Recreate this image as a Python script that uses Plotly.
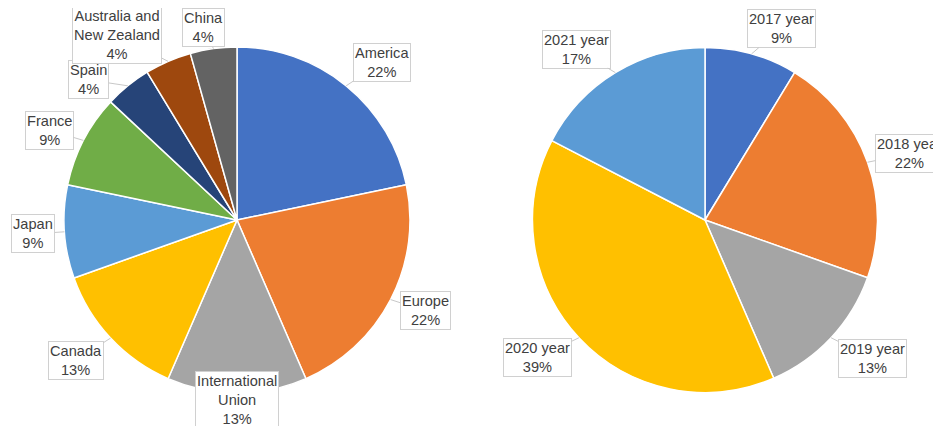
import math
import plotly.graph_objects as go

W, H = 941, 426

# ---- data ----
regions = ["America", "Europe", "International<br>Union", "Canada", "Japan",
           "France", "Spain", "Australia and<br>New Zealand", "China"]
region_counts = [5, 5, 3, 3, 2, 2, 1, 1, 1]
region_colors = ["#4472C4", "#ED7D31", "#A5A5A5", "#FFC000", "#5B9BD5",
                 "#70AD47", "#264478", "#9E480E", "#636363"]

years = ["2017 year", "2018 year", "2019 year", "2020 year", "2021 year"]
year_counts = [2, 5, 3, 9, 4]
year_colors = ["#4472C4", "#ED7D31", "#A5A5A5", "#FFC000", "#5B9BD5"]

# ---- style: label placement (radius in px, angle shift in deg) ----
region_label_pos = [(214, 3.4), (209, -1.6), (180, 0), (214, 2), (204, 0),
                    (208, -1.8), (204, -7.5), (220, -9.5), (195, -2)]
year_label_pos = [(206, 6), (215, 1.6), (217, -3.4), (217, 3.6), (214, -5.7)]

# page body has an 8px margin, so figure coords are shifted by 8px
OFF = 8
left_center, left_r = (237 - OFF, 220 - OFF), 173
right_center, right_r = (705 - OFF, 220 - OFF), 172.5


def domain(center, r):
    cx, cy = center
    return dict(x=[(cx - r) / W, (cx + r) / W],
                y=[1 - (cy + r) / H, 1 - (cy - r) / H])


fig = go.Figure()
for labels, values, colors, center, r in [
    (regions, region_counts, region_colors, left_center, left_r),
    (years, year_counts, year_colors, right_center, right_r),
]:
    fig.add_trace(go.Pie(
        labels=[l.replace("<br>", " ") for l in labels], values=values,
        marker=dict(colors=colors, line=dict(color="white", width=1.5)),
        sort=False, direction="clockwise", rotation=0,
        textinfo="none", hoverinfo="label+percent",
        domain=domain(center, r),
    ))


def add_labels(labels, values, center, r, pos):
    cx, cy = center
    total = sum(values)
    cum = 0
    for lab, v, (lr, da) in zip(labels, values, pos):
        mid = (cum + v / 2) / total * 360
        cum += v
        th = math.radians(mid)
        hx, hy = cx + r * math.sin(th), cy - r * math.cos(th)
        ta = math.radians(mid + da)
        lx, ly = cx + lr * math.sin(ta), cy - lr * math.cos(ta)
        pct = round(100 * v / total)
        fig.add_annotation(
            x=hx / W, y=1 - hy / H, xref="paper", yref="paper",
            ax=lx - hx, ay=ly - hy,
            text=f"{lab}<br>{pct}%", align="center",
            showarrow=True, arrowhead=0, arrowwidth=1, arrowcolor="#c8c8c8",
            bordercolor="#d0d0d0", borderwidth=1, borderpad=1, bgcolor="white",
            font=dict(family="Liberation Sans, Arial, sans-serif", size=14.6,
                      color="#404040"),
        )


add_labels(regions, region_counts, left_center, left_r, region_label_pos)
add_labels(years, year_counts, right_center, right_r, year_label_pos)

fig.update_layout(
    width=W, height=H, margin=dict(l=0, r=0, t=0, b=0),
    showlegend=False, paper_bgcolor="white", plot_bgcolor="white",
)

fig.write_html("out.html")
